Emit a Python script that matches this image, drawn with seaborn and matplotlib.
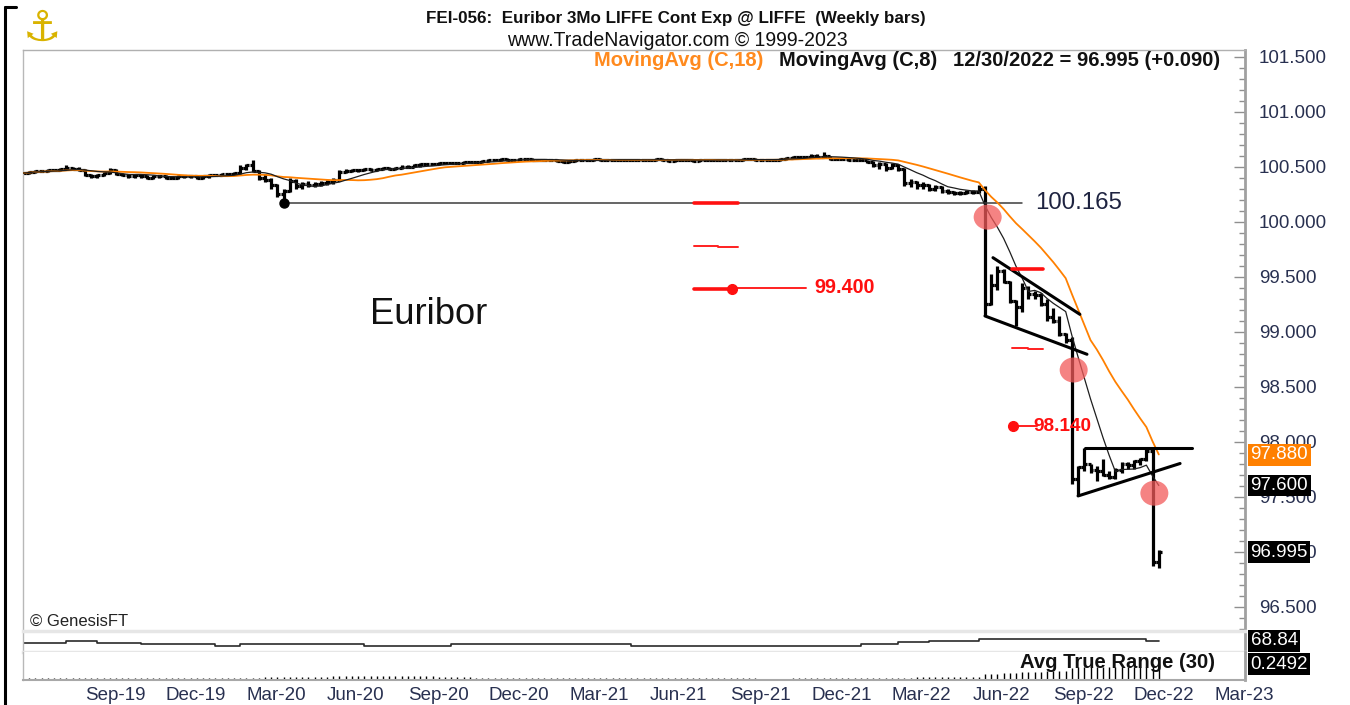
import numpy as np
import pandas as pd
import matplotlib
matplotlib.use('Agg')
import matplotlib.pyplot as plt
import matplotlib.dates as mdates
from matplotlib.ticker import MultipleLocator
from matplotlib.patches import Ellipse
from matplotlib.lines import Line2D
from matplotlib.transforms import blended_transform_factory
from matplotlib import font_manager as fm
import seaborn as sns

sns.set_theme(style='white')


def _has(name):
    try:
        fm.findfont(fm.FontProperties(family=name), fallback_to_default=False)
        return True
    except Exception:
        return False


SANS = ['Liberation Sans', 'DejaVu Sans']
NARROW = (['Liberation Sans Narrow'] if _has('Liberation Sans Narrow') else []) + SANS
plt.rcParams['font.family'] = SANS

# ---------------------------------------------------------------- data
first_week = '2019-06-28'
last_week = '2022-12-30'

opens = [
    100.44, 100.44, 100.45, 100.46, 100.46, 100.47, 100.47, 100.48, 100.49, 100.48,
    100.47, 100.42, 100.41, 100.42, 100.44, 100.47, 100.43, 100.42, 100.41, 100.42,
    100.41, 100.40, 100.41, 100.41, 100.40, 100.40, 100.41, 100.41, 100.41, 100.40,
    100.41, 100.42, 100.42, 100.43, 100.43, 100.44, 100.49, 100.51, 100.46, 100.40,
    100.38, 100.33, 100.25, 100.28, 100.37, 100.32, 100.34, 100.33, 100.34, 100.35,
    100.36, 100.38, 100.45, 100.46, 100.47, 100.47, 100.48, 100.47, 100.48, 100.49,
    100.48, 100.49, 100.50, 100.50, 100.51, 100.52, 100.52, 100.52, 100.53, 100.53,
    100.53, 100.53, 100.54, 100.54, 100.54, 100.55, 100.56, 100.56, 100.57, 100.56,
    100.56, 100.57, 100.57, 100.56, 100.56, 100.56, 100.56, 100.55, 100.54, 100.55,
    100.56, 100.56, 100.56, 100.57, 100.56, 100.56, 100.56, 100.56, 100.56, 100.56,
    100.56, 100.56, 100.56, 100.57, 100.56, 100.55, 100.56, 100.56, 100.56, 100.55,
    100.56, 100.56, 100.56, 100.56, 100.56, 100.56, 100.56, 100.57, 100.57, 100.56,
    100.56, 100.56, 100.56, 100.57, 100.58, 100.59, 100.59, 100.59, 100.60, 100.59,
    100.60, 100.57, 100.57, 100.57, 100.56, 100.56, 100.56, 100.54, 100.51, 100.52,
    100.49, 100.51, 100.48, 100.35, 100.36, 100.33, 100.33, 100.30, 100.31, 100.28,
    100.27, 100.26, 100.26, 100.27, 100.27, 100.30, 99.25, 99.42, 99.55, 99.45,
    99.28, 99.22, 99.40, 99.34, 99.33, 99.25, 99.13, 99.10, 98.98, 98.92,
    97.66, 97.77, 97.80, 97.74, 97.73, 97.70, 97.68, 97.74, 97.80, 97.79,
    97.82, 97.84, 97.91, 96.905]

highs = [
    100.45, 100.46, 100.47, 100.47, 100.48, 100.48, 100.49, 100.51, 100.50, 100.50,
    100.48, 100.43, 100.43, 100.45, 100.49, 100.48, 100.44, 100.43, 100.43, 100.43,
    100.42, 100.42, 100.42, 100.42, 100.41, 100.42, 100.42, 100.42, 100.42, 100.42,
    100.43, 100.43, 100.44, 100.44, 100.45, 100.51, 100.52, 100.56, 100.47, 100.43,
    100.40, 100.34, 100.30, 100.40, 100.39, 100.36, 100.37, 100.36, 100.37, 100.38,
    100.40, 100.47, 100.48, 100.48, 100.48, 100.49, 100.49, 100.49, 100.50, 100.50,
    100.50, 100.51, 100.51, 100.52, 100.53, 100.53, 100.53, 100.54, 100.54, 100.54,
    100.54, 100.55, 100.55, 100.55, 100.56, 100.57, 100.57, 100.58, 100.58, 100.57,
    100.58, 100.58, 100.58, 100.57, 100.57, 100.57, 100.57, 100.56, 100.56, 100.57,
    100.57, 100.57, 100.58, 100.58, 100.57, 100.57, 100.57, 100.57, 100.57, 100.57,
    100.57, 100.57, 100.58, 100.58, 100.57, 100.57, 100.57, 100.57, 100.57, 100.57,
    100.57, 100.57, 100.57, 100.57, 100.57, 100.57, 100.58, 100.58, 100.58, 100.57,
    100.57, 100.57, 100.58, 100.59, 100.60, 100.60, 100.60, 100.61, 100.61, 100.63,
    100.60, 100.58, 100.58, 100.58, 100.57, 100.57, 100.56, 100.55, 100.54, 100.53,
    100.53, 100.52, 100.49, 100.39, 100.37, 100.36, 100.34, 100.33, 100.32, 100.30,
    100.28, 100.28, 100.29, 100.29, 100.33, 100.32, 99.52, 99.60, 99.57, 99.46,
    99.29, 99.44, 99.41, 99.37, 99.35, 99.30, 99.21, 99.14, 98.99, 98.95,
    97.78, 97.945, 97.80, 97.78, 97.84, 97.73, 97.76, 97.81, 97.81, 97.83,
    97.85, 97.93, 97.93, 97.01]

lows = [
    100.43, 100.43, 100.44, 100.45, 100.45, 100.46, 100.46, 100.47, 100.47, 100.46,
    100.41, 100.40, 100.40, 100.41, 100.43, 100.42, 100.41, 100.40, 100.40, 100.40,
    100.39, 100.39, 100.40, 100.39, 100.39, 100.39, 100.40, 100.40, 100.39, 100.39,
    100.40, 100.41, 100.41, 100.42, 100.42, 100.43, 100.47, 100.45, 100.38, 100.36,
    100.30, 100.22, 100.165, 100.27, 100.30, 100.30, 100.31, 100.31, 100.32, 100.33,
    100.34, 100.37, 100.44, 100.45, 100.45, 100.46, 100.46, 100.46, 100.47, 100.47,
    100.47, 100.48, 100.49, 100.50, 100.50, 100.51, 100.51, 100.51, 100.52, 100.52,
    100.52, 100.52, 100.53, 100.53, 100.53, 100.54, 100.55, 100.55, 100.55, 100.55,
    100.55, 100.56, 100.55, 100.55, 100.55, 100.55, 100.54, 100.53, 100.53, 100.54,
    100.55, 100.55, 100.55, 100.55, 100.55, 100.55, 100.55, 100.55, 100.55, 100.55,
    100.55, 100.55, 100.55, 100.55, 100.54, 100.54, 100.55, 100.55, 100.54, 100.54,
    100.55, 100.55, 100.55, 100.55, 100.55, 100.55, 100.55, 100.56, 100.55, 100.55,
    100.55, 100.55, 100.55, 100.56, 100.57, 100.58, 100.58, 100.58, 100.58, 100.58,
    100.56, 100.56, 100.56, 100.55, 100.55, 100.55, 100.53, 100.50, 100.48, 100.46,
    100.48, 100.46, 100.32, 100.31, 100.30, 100.30, 100.28, 100.28, 100.26, 100.25,
    100.24, 100.24, 100.25, 100.25, 100.26, 99.14, 99.24, 99.38, 99.44, 99.26,
    99.05, 99.18, 99.30, 99.30, 99.23, 99.10, 99.08, 98.96, 98.90, 97.61,
    97.505, 97.73, 97.71, 97.64, 97.69, 97.66, 97.66, 97.71, 97.75, 97.75,
    97.79, 97.82, 96.87, 96.85]

closes = [
    100.44, 100.45, 100.46, 100.46, 100.47, 100.47, 100.48, 100.49, 100.48, 100.47,
    100.42, 100.41, 100.42, 100.44, 100.47, 100.43, 100.42, 100.41, 100.42, 100.41,
    100.40, 100.41, 100.41, 100.40, 100.40, 100.41, 100.41, 100.41, 100.40, 100.41,
    100.42, 100.42, 100.43, 100.43, 100.44, 100.49, 100.51, 100.46, 100.40, 100.38,
    100.33, 100.25, 100.28, 100.37, 100.32, 100.34, 100.33, 100.34, 100.35, 100.36,
    100.38, 100.45, 100.46, 100.47, 100.47, 100.48, 100.47, 100.48, 100.49, 100.48,
    100.49, 100.50, 100.50, 100.51, 100.52, 100.52, 100.52, 100.53, 100.53, 100.53,
    100.53, 100.54, 100.54, 100.54, 100.55, 100.56, 100.56, 100.57, 100.56, 100.56,
    100.57, 100.57, 100.56, 100.56, 100.56, 100.56, 100.55, 100.54, 100.55, 100.56,
    100.56, 100.56, 100.57, 100.56, 100.56, 100.56, 100.56, 100.56, 100.56, 100.56,
    100.56, 100.56, 100.57, 100.56, 100.55, 100.56, 100.56, 100.56, 100.55, 100.56,
    100.56, 100.56, 100.56, 100.56, 100.56, 100.56, 100.57, 100.57, 100.56, 100.56,
    100.56, 100.56, 100.57, 100.58, 100.59, 100.59, 100.59, 100.60, 100.59, 100.60,
    100.57, 100.57, 100.57, 100.56, 100.56, 100.56, 100.54, 100.51, 100.52, 100.49,
    100.51, 100.48, 100.35, 100.36, 100.33, 100.33, 100.30, 100.31, 100.28, 100.27,
    100.26, 100.26, 100.27, 100.27, 100.30, 99.25, 99.42, 99.55, 99.45, 99.28,
    99.22, 99.40, 99.34, 99.33, 99.25, 99.13, 99.10, 98.98, 98.92, 97.66,
    97.77, 97.80, 97.74, 97.73, 97.70, 97.68, 97.74, 97.80, 97.79, 97.82,
    97.84, 97.91, 96.905, 96.995]

# lower oscillator panel (step line)
osc_dates = ['2019-06-28', '2019-08-16', '2019-09-20', '2019-11-08', '2020-01-31',
             '2020-02-28', '2020-07-17', '2020-10-23', '2021-05-14', '2022-01-28',
             '2022-03-11', '2022-04-15', '2022-06-10', '2022-12-16']
osc_values = [66.8, 68.8, 66.8, 65.5, 63.5, 65.5, 63.8, 65.5, 63.8, 65.5,
              67.2, 68.8, 70.5, 68.84]

# x-axis labels
tick_dates = ['2019-09-06', '2019-12-06', '2020-03-06', '2020-06-05', '2020-09-04',
              '2020-12-04', '2021-03-05', '2021-06-04', '2021-09-03', '2021-12-03',
              '2022-03-04', '2022-06-03', '2022-09-02', '2022-12-02', '2023-03-03']
tick_labels = ['Sep-19', 'Dec-19', 'Mar-20', 'Jun-20', 'Sep-20', 'Dec-20', 'Mar-21',
               'Jun-21', 'Sep-21', 'Dec-21', 'Mar-22', 'Jun-22', 'Sep-22', 'Dec-22',
               'Mar-23']
price_ticks = [96.5, 97.0, 97.5, 98.0, 98.5, 99.0, 99.5, 100.0, 100.5, 101.0, 101.5]

# analyst drawings
support_level = 100.165
support_start, support_end = '2020-04-17', '2022-07-29'
flag_upper = (['2022-06-26', '2022-10-02'], [99.671, 99.156])
flag_lower = (['2022-06-17', '2022-10-10'], [99.141, 98.793])
tri_top = (['2022-10-08', '2023-02-05'], [97.944, 97.944])
tri_low = (['2022-09-30', '2023-01-23'], [97.505, 97.80])
circle_dates = ['2022-06-20', '2022-09-25', '2022-12-25']
circle_values = [100.04, 98.65, 97.53]
red_thick = [(['2021-07-24', '2021-09-12'], 100.165),
             (['2021-07-24', '2021-09-05'], 99.385),
             (['2022-07-17', '2022-08-21'], 99.565)]
red_thin = [(['2021-07-24', '2021-08-20'], 99.777),
            (['2021-08-20', '2021-09-12'], 99.768),
            (['2021-09-05', '2021-11-27'], 99.400),
            (['2022-07-17', '2022-08-04'], 98.854),
            (['2022-08-04', '2022-08-21'], 98.839),
            (['2022-07-19', '2022-08-15'], 98.140)]
red_dots = (['2021-09-05', '2022-07-19'], [99.39, 98.14])

title = 'FEI-056:  Euribor 3Mo LIFFE Cont Exp @ LIFFE  (Weekly bars)'
subtitle = 'www.TradeNavigator.com \u00a9 1999-2023'
legend_ma18 = 'MovingAvg (C,18)'
legend_ma8 = 'MovingAvg (C,8)'
legend_last = '12/30/2022 = 96.995 (+0.090)'
box_ma18, box_ma8, box_last = '97.880', '97.600', '96.995'
box_osc, box_atr = '68.84', '0.2492'

# ---------------------------------------------------------------- figure
W, H = 1350, 705
fig = plt.figure(figsize=(W / 100, H / 100), dpi=100)
fig.patch.set_facecolor('white')
L_PX, R_PX = 22.5, 1245
T_PX, MB_PX, OB_PX, AB_PX = 50, 631, 652, 680


def frac_box(top, bottom):
    return [L_PX / W, 1 - bottom / H, (R_PX - L_PX) / W, (bottom - top) / H]


ax = fig.add_axes(frac_box(T_PX, MB_PX))
osc_ax = fig.add_axes(frac_box(MB_PX, OB_PX))
atr_ax = fig.add_axes(frac_box(OB_PX, AB_PX))

dn = lambda s: mdates.date2num(pd.to_datetime(s).to_pydatetime()) if not isinstance(s, (list, tuple)) \
    else np.array([mdates.date2num(pd.Timestamp(v).to_pydatetime()) for v in s])

weeks = pd.date_range(first_week, last_week, freq='W-FRI')
xn = np.array([mdates.date2num(d.to_pydatetime()) for d in weeks])
o, h, l, c = map(np.array, (opens, highs, lows, closes))

anchor = dn('2019-09-06')
PX_DAY = 0.8867
PX_UNIT = 110.0
xlim = (anchor - (85 - L_PX) / PX_DAY, anchor + (R_PX - 85) / PX_DAY)
for a in (ax, osc_ax, atr_ax):
    a.set_xlim(xlim)
    a.set_facecolor('white')
ax.set_ylim(100 - (MB_PX - 221.5) / PX_UNIT, 100 + (221.5 - T_PX) / PX_UNIT)

# OHLC bars
tick_days = 3.3
ax.vlines(xn, l, h, color='black', lw=2.3, zorder=2)
ax.hlines(o, xn - tick_days, xn, color='black', lw=2.3, zorder=2)
ax.hlines(c, xn, xn + tick_days, color='black', lw=2.3, zorder=2)

# moving averages
ma18 = pd.Series(c).rolling(18, min_periods=1).mean().values
ma8 = pd.Series(c).rolling(8, min_periods=1).mean().values
sns.lineplot(x=xn, y=ma18, ax=ax, color='#ff8000', lw=1.3, zorder=3, estimator=None)
sns.lineplot(x=xn, y=ma8, ax=ax, color='#1e1e1e', lw=0.9, zorder=3, estimator=None)

# support line + dot
ax.plot(dn([support_start, support_end]), [support_level] * 2, color='#3c3c3c', lw=1.1, zorder=2.5)
ax.plot([dn(support_start)], [support_level], 'o', color='black', ms=6.5, zorder=4)

# trendlines
for xs, ys in (flag_upper, flag_lower, tri_top, tri_low):
    ax.plot(dn(xs), ys, color='black', lw=2.2, zorder=4, solid_capstyle='round')

# red drawings
for xs, v in red_thick:
    ax.plot(dn(xs), [v, v], color='#ff1010', lw=2.6, zorder=5)
for xs, v in red_thin:
    ax.plot(dn(xs), [v, v], color='#ff2020', lw=1.4, zorder=5)
ax.plot(dn(red_dots[0]), red_dots[1], 'o', color='#ff1010', ms=7, zorder=5, ls='none')

# circles
cw = 28 / PX_DAY
ch = 25 / PX_UNIT
for d, v in zip(circle_dates, circle_values):
    ax.add_patch(Ellipse((dn(d), v), cw, ch, facecolor='#f25a5a', alpha=0.75,
                         edgecolor='none', zorder=6))

# main axis styling
ax.yaxis.tick_right()
ax.set_yticks(price_ticks)
ax.set_yticklabels([f'{v:.3f}' for v in price_ticks])
ax.yaxis.set_minor_locator(MultipleLocator(0.1))
ax.tick_params(axis='y', which='major', direction='in', length=8, width=1, color='#8f8f8f',
               pad=10, labelsize=13.5, labelcolor='#283050', right=True, left=False)
ax.tick_params(axis='y', which='minor', direction='in', length=4, width=1, color='#8f8f8f',
               right=True, left=False)
ax.tick_params(axis='x', which='both', bottom=False, labelbottom=False)
ax.set_xlabel('')
ax.set_ylabel('')
for s, col, lw in (('right', '#a0a0a0', 2.0), ('left', '#b8b8b8', 1.0),
                   ('top', '#b0b0b0', 1.0)):
    ax.spines[s].set_color(col)
    ax.spines[s].set_linewidth(lw)
ax.spines['bottom'].set_visible(False)

# oscillator panel
osc_x = list(dn(osc_dates)) + [xn[-1]]
osc_y = list(osc_values) + [osc_values[-1]]
sns.lineplot(x=osc_x, y=osc_y, ax=osc_ax, drawstyle='steps-post', color='#2a2a2a', lw=1.2,
             estimator=None, sort=False)
osc_ax.set_ylim(57.5, 78.5)
osc_ax.set_xticks([])
osc_ax.set_yticks([])
for s in ('top', 'bottom'):
    osc_ax.spines[s].set_color('#e6e6e6')
    osc_ax.spines[s].set_linewidth(2.5)
osc_ax.spines['left'].set_color('#b8b8b8')
osc_ax.spines['left'].set_linewidth(1.0)
osc_ax.spines['right'].set_color('#a0a0a0')
osc_ax.spines['right'].set_linewidth(2.0)

# ATR panel
prev_c = np.r_[c[0], c[:-1]]
tr = np.maximum(h - l, np.maximum(np.abs(h - prev_c), np.abs(l - prev_c)))
atr = pd.Series(tr).rolling(30, min_periods=1).mean().values
atr_ax.vlines(xn, 0, atr, color='black', lw=1.0)
atr_ax.set_ylim(0, 0.44)
atr_ax.set_yticks([])
atr_ax.set_xticks(dn(tick_dates))
atr_ax.set_xticklabels(tick_labels, ha='left')
atr_ax.tick_params(axis='x', length=0, pad=5, labelsize=13.5, labelcolor='#283050')
atr_ax.spines['top'].set_visible(False)
atr_ax.spines['bottom'].set_color('#a8a8a8')
atr_ax.spines['bottom'].set_linewidth(1.5)
atr_ax.spines['left'].set_color('#b8b8b8')
atr_ax.spines['left'].set_linewidth(1.0)
atr_ax.spines['right'].set_color('#a0a0a0')
atr_ax.spines['right'].set_linewidth(2.0)


# value boxes on the right
def value_box(axis, label, fc):
    trn = blended_transform_factory(axis.transAxes, axis.transData)
    axis.text(1 + 5.5 / (R_PX - L_PX), float(label), label, transform=trn, ha='left',
              va='center', fontsize=13.5, color='white', zorder=20, clip_on=False,
              bbox=dict(boxstyle='square,pad=0.13', fc=fc, ec='none'))


value_box(ax, box_ma18, '#ff8000')
value_box(ax, box_ma8, 'black')
value_box(ax, box_last, 'black')
value_box(osc_ax, box_osc, 'black')
value_box(atr_ax, box_atr, 'black')

# ---------------------------------------------------------------- texts
fig.canvas.draw()
rend = fig.canvas.get_renderer()


def fit(t, width_px):
    bb = t.get_window_extent(rend)
    if bb.width > 0:
        t.set_fontsize(t.get_fontsize() * width_px / bb.width)
    return t


def ftext(px, py, s, width, ha='left', **kw):
    t = fig.text(px / W, 1 - py / H, s, ha=ha, va='center', **kw)
    return fit(t, width)


ftext(676, 18, title, 497, ha='center', weight='bold', family=NARROW, color='#101010')
ftext(677, 40, subtitle, 342, ha='center', family=NARROW, color='#101010')
ftext(594, 61, legend_ma18, 169, weight='bold', family=NARROW, color='#ff8a1e')
ftext(779, 61, legend_ma8, 158, weight='bold', family=NARROW, color='#111111')
ftext(953, 61, legend_last, 265, weight='bold', family=NARROW, color='#111111')
ftext(370, 315, 'Euribor', 118, color='#111111')
ftext(30, 621, '\u00a9 GenesisFT', 98, family=NARROW, color='#222222')
ftext(1020, 662, 'Avg True Range (30)', 194, weight='bold', family=NARROW, color='#111111')

fit(ax.text(dn('2022-08-13'), support_level, '100.165', ha='left', va='center',
            color='#1e2340', fontsize=17, zorder=6), 87)
fit(ax.text(dn('2021-12-07'), 99.40, '99.400', ha='left', va='center', color='#ff1010',
            weight='bold', fontsize=12, zorder=6), 60)
fit(ax.text(dn('2022-08-10'), 98.14, '98.140', ha='left', va='center', color='#ff1010',
            weight='bold', fontsize=12, zorder=6), 58)

# logo and outer frame
fig.text(42 / W, 1 - 29 / H, '\u2693', ha='center', va='center', fontsize=31,
         color='#d9b300', family=['DejaVu Sans'], weight='bold')
fig.add_artist(Line2D([5 / W, 5 / W], [0, 1 - 7 / H], color='black', lw=2.2,
                      transform=fig.transFigure))
fig.add_artist(Line2D([5 / W, 16 / W], [1 - 7 / H, 1 - 7 / H], color='black', lw=2.2,
                      transform=fig.transFigure))

fig.savefig('out.png', dpi=100, facecolor='white')
